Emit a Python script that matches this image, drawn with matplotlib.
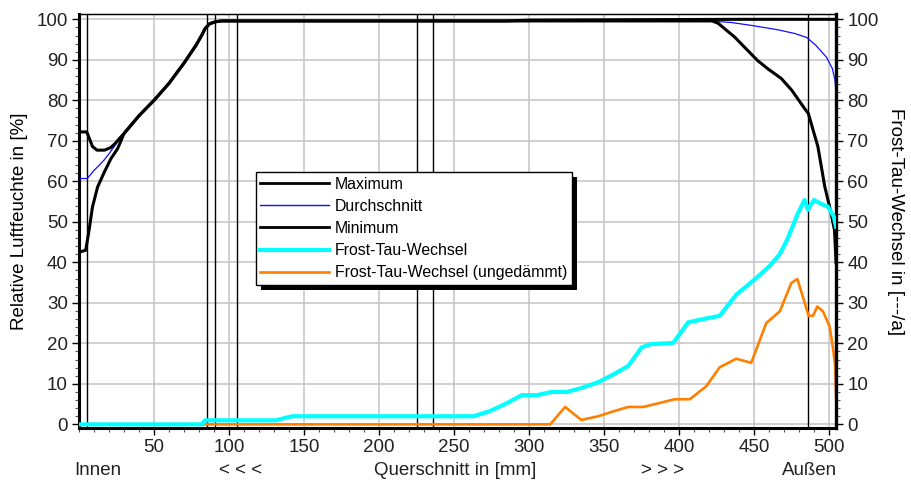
import matplotlib
matplotlib.use("Agg")
import matplotlib.pyplot as plt
from matplotlib.ticker import MultipleLocator
from matplotlib.patches import Rectangle

plt.rcParams['font.family'] = ['Liberation Sans', 'DejaVu Sans']

# Schichtgrenzen im Querschnitt [mm]
layer_bounds = [5.3, 85, 90.8, 105.3, 225.3, 235.6, 485.5]

# Relative Luftfeuchte [%]
max_x = [0, 5.2, 7, 9, 12, 17, 21, 24, 27, 30, 35, 40, 50, 60, 70, 78, 82, 84, 87, 91, 95,
         285, 300, 440, 505]
max_y = [72.2, 72.2, 70.5, 68.6, 67.7, 67.7, 68.3, 69.3, 70.6, 71.8, 74.0, 76.2, 80.0, 84.2,
         89.2, 93.6, 96.2, 97.7, 98.9, 99.4, 99.6, 99.6, 99.8, 100, 100]

avg_x = [0, 5.5, 10, 13, 16.6, 20, 23.3, 27, 30, 35, 40, 50, 60, 70, 78, 82, 84, 87, 91, 95,
         420, 435, 448, 466, 477, 485, 491, 498, 502, 503.8, 504.5]
avg_y = [60.7, 60.7, 62.7, 63.8, 65.2, 66.8, 68.5, 70.6, 71.8, 74.0, 76.2, 80.0, 84.2, 89.2,
         93.6, 96.2, 97.7, 98.9, 99.4, 99.6, 99.6, 99.2, 98.5, 97.4, 96.5, 95.5, 93.6, 90.7,
         87.9, 85.0, 82.0]

min_x = [0, 4.5, 6.7, 9, 12.4, 16.9, 21.3, 25.8, 30, 35, 40, 50, 60, 70, 78, 82, 84, 87, 91, 95,
         422, 426, 437, 452, 459, 468, 475, 483.5, 486, 492.4, 497, 501, 503.5, 504.5]
min_y = [42.5, 43.0, 47.9, 53.7, 58.6, 62.3, 65.6, 68.1, 71.8, 74.0, 76.2, 80.0, 84.2, 89.2,
         93.6, 96.2, 97.7, 98.9, 99.4, 99.6, 99.6, 99.0, 95.6, 89.9, 87.8, 85.4, 82.5, 78.0,
         76.8, 68.6, 58.7, 52.5, 47.9, 40.0]

# Frost-Tau-Wechsel [1/a]
ftw_x = [0, 82, 84, 131, 142, 263, 274, 285, 295, 305, 315, 325, 335, 346, 356, 366, 375, 381,
         396, 406, 416, 427, 438, 450, 460, 467, 472, 479, 483.5, 485.8, 489.8, 494.7, 499,
         503, 504.5]
ftw_y = [0, 0, 1, 1, 2, 2, 3.3, 5.2, 7.2, 7.2, 8.0, 8.0, 9.0, 10.4, 12.3, 14.4, 19.0, 19.8,
         20.1, 25.2, 26.0, 26.8, 32.0, 35.7, 39.0, 42.0, 45.6, 52.0, 55.4, 53.0, 55.4, 54.4,
         53.8, 51.3, 48.8]

ftw_u_x = [0, 314, 324, 334.7, 346, 356, 366, 376, 386, 397, 407, 418, 427, 438, 448, 458, 467,
           474.7, 478.7, 484, 486.2, 489.1, 492, 495.8, 500.2, 502.6, 503.9, 504.5]
ftw_u_y = [0, 0, 4.3, 1.1, 2.0, 3.2, 4.3, 4.3, 5.2, 6.2, 6.2, 9.4, 14.1, 16.2, 15.2, 25.0, 27.9,
           34.9, 35.9, 29.6, 26.8, 26.8, 29.1, 27.9, 24.2, 18.5, 14.4, 7.0]

x_ticks = [50, 100, 150, 200, 250, 300, 350, 400, 450, 500]
y_ticks = [0, 10, 20, 30, 40, 50, 60, 70, 80, 90, 100]

# Beschriftung unter der x-Achse: (Position [mm], Text)
bottom_labels = [(12.5, "Innen"), (107.6, "< < <"), (250.9, "Querschnitt in [mm]"),
                 (388.6, "> > >"), (487, "Außen")]

fig = plt.figure(figsize=(9.11, 4.82), dpi=100)
ax = fig.add_axes([0.0867, 0.112, 0.8310, 0.858])
ax2 = ax.twinx()

for a in (ax, ax2):
    a.set_xlim(0, 504.5)
    a.set_ylim(-0.9, 101.2)
    a.set_yticks(y_ticks)
    a.yaxis.set_minor_locator(MultipleLocator(2))
    a.tick_params(axis='both', which='major', direction='out', length=5, width=1,
                  labelsize=13.5, colors='black', labelcolor='#222222', pad=3)
    a.tick_params(axis='both', which='minor', direction='out', length=3, width=0.8,
                  colors='#555555')

ax.set_xticks(x_ticks)
ax.xaxis.set_minor_locator(MultipleLocator(10))
ax.grid(True, which='major', color='#c4c4c4', linewidth=1.1, zorder=0)
ax.set_axisbelow(True)

for b in layer_bounds:
    ax.axvline(b, color='black', linewidth=1.0, zorder=1)

ax.plot(avg_x, avg_y, color='#1010ff', linewidth=0.9, zorder=3)
ax.plot(max_x, max_y, color='black', linewidth=2.2, zorder=4)
ax.plot(min_x, min_y, color='black', linewidth=2.2, zorder=4)

ax2.plot(ftw_u_x, ftw_u_y, color='#ff7f00', linewidth=1.9, zorder=2)
ax2.plot(ftw_x, ftw_y, color='#00ffff', linewidth=3.0, zorder=3)

for s in ('left', 'bottom'):
    ax.spines[s].set_linewidth(2.2)
ax.spines['top'].set_linewidth(0.9)
ax2.spines['right'].set_linewidth(2.4)
ax2.spines['top'].set_linewidth(0.9)

ax.set_ylabel("Relative Luftfeuchte in [%]", fontsize=13.5, labelpad=6)
ax2.set_ylabel("Frost-Tau-Wechsel in [---/a]", fontsize=13.5, rotation=270, labelpad=18)

for xpos, txt in bottom_labels:
    ax.text(xpos, -0.102, txt, transform=ax.get_xaxis_transform(), ha='center', va='center',
            fontsize=13.5, color='#222222')

handles = [
    plt.Line2D([], [], color='black', linewidth=2.0, label='Maximum'),
    plt.Line2D([], [], color='#1010ff', linewidth=1.0, label='Durchschnitt'),
    plt.Line2D([], [], color='black', linewidth=2.0, label='Minimum'),
    plt.Line2D([], [], color='#00ffff', linewidth=3.0, label='Frost-Tau-Wechsel'),
    plt.Line2D([], [], color='#ff7f00', linewidth=1.9, label='Frost-Tau-Wechsel (ungedämmt)'),
]
leg = ax2.legend(handles=handles, loc='upper left', bbox_to_anchor=(0.2334, 0.619),
                 borderaxespad=0, fontsize=11.4, frameon=True, fancybox=False,
                 edgecolor='black', framealpha=1, handlelength=4.3, handletextpad=0.4,
                 labelspacing=0.45, borderpad=0.3)
leg.get_frame().set_linewidth(1.0)
leg.set_zorder(10)

# Schlagschatten der Legende (schwarz, nach rechts unten versetzt)
fig.canvas.draw()
bb = leg.get_window_extent(fig.canvas.get_renderer())
inv = ax2.transAxes.inverted()
(x0, y0) = inv.transform((bb.x0 + 5, bb.y0 - 5))
(x1, y1) = inv.transform((bb.x1 + 5, bb.y1 - 5))
ax2.add_patch(Rectangle((x0, y0), x1 - x0, y1 - y0, transform=ax2.transAxes,
                        facecolor='black', edgecolor='none', zorder=9, clip_on=False))

fig.savefig("out.png", dpi=100)
